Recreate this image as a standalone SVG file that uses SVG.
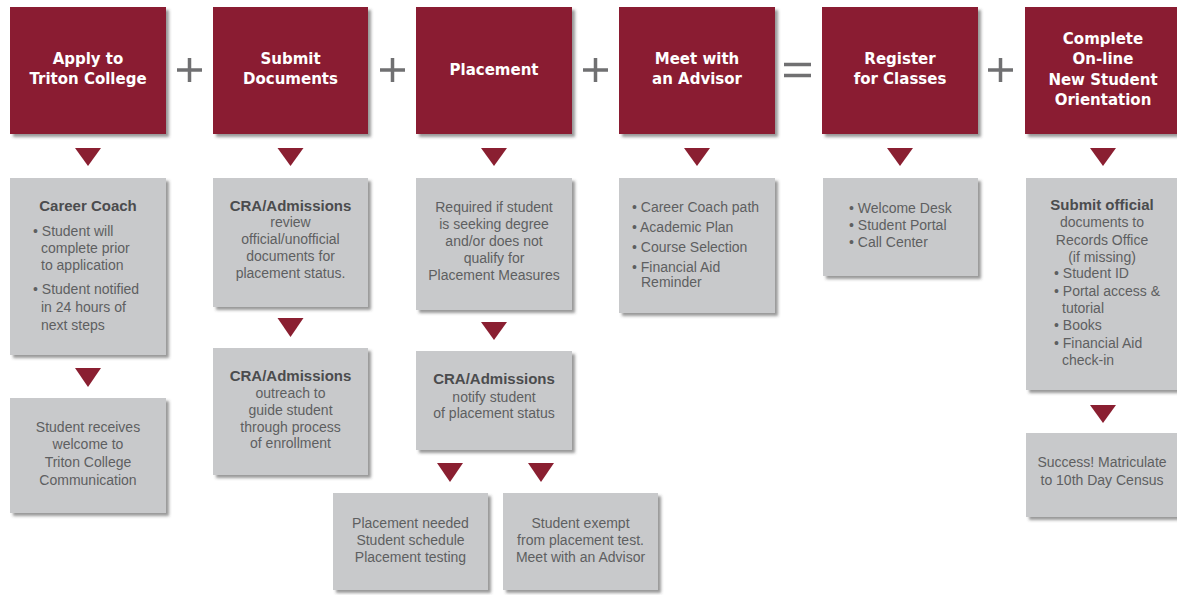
<svg xmlns="http://www.w3.org/2000/svg" width="1177" height="595" viewBox="0 0 1177 595">
<defs>
<filter id="sh" x="-10%" y="-10%" width="125%" height="125%">
<feDropShadow dx="3" dy="3" stdDeviation="1.8" flood-color="#444" flood-opacity="0.55"/>
</filter>
<style>
.hd{fill:#8A1F31;filter:url(#sh)}
.bx{fill:#C8C9CB;filter:url(#sh)}
.ht{font-family:"DejaVu Sans",sans-serif;font-weight:bold;font-size:15px;fill:#fff;text-anchor:middle}
.t{font-family:"Liberation Sans",Arial,sans-serif;font-size:14px;fill:#5E5F61}
.c{text-anchor:middle}
.b{font-weight:bold;font-size:15px;fill:#4B4C4E}
.tri{fill:#8A1F31}
.op{stroke:#707072;stroke-width:3.5;fill:none}
</style>
</defs>
<rect width="1177" height="595" fill="#fff"/>

<g id="connectors">
<path class="tri" d="M75,148 L101,148 L88,166 Z"/>
<path class="tri" d="M75,368 L101,368 L88,387 Z"/>
<path class="tri" d="M277.5,148 L303.5,148 L290.5,166 Z"/>
<path class="tri" d="M277.5,318 L303.5,318 L290.5,337 Z"/>
<path class="tri" d="M481,148 L507,148 L494,166 Z"/>
<path class="tri" d="M481,322 L507,322 L494,340 Z"/>
<path class="tri" d="M437,463 L463,463 L450,482 Z"/>
<path class="tri" d="M528,463 L554,463 L541,482 Z"/>
<path class="tri" d="M684,148 L710,148 L697,166 Z"/>
<path class="tri" d="M887,148 L913,148 L900,166 Z"/>
<path class="tri" d="M1090,148 L1116,148 L1103,166 Z"/>
<path class="tri" d="M1090,405 L1116,405 L1103,423 Z"/>
</g>

<g id="operators">
<path class="op" d="M177,70 H202 M189.5,58 V82"/>
<path class="op" d="M380,70 H405 M392.5,58 V82"/>
<path class="op" d="M583,70 H608 M595.5,58 V82"/>
<path class="op" d="M784,64.5 H811 M784,75.5 H811"/>
<path class="op" d="M988,70 H1013 M1000.5,58 V82"/>
</g>

<g id="step-apply">
<rect class="hd" x="10" y="7" width="156" height="127"/>
<text class="ht" x="88" y="64">Apply to</text>
<text class="ht" x="88" y="84">Triton College</text>
</g>
<g id="step-submit">
<rect class="hd" x="213" y="7" width="155" height="127"/>
<text class="ht" x="290.5" y="64">Submit</text>
<text class="ht" x="290.5" y="84">Documents</text>
</g>
<g id="step-placement">
<rect class="hd" x="416" y="7" width="156" height="127"/>
<text class="ht" x="494" y="75">Placement</text>
</g>
<g id="step-advisor">
<rect class="hd" x="619" y="7" width="156" height="127"/>
<text class="ht" x="697" y="64">Meet with</text>
<text class="ht" x="697" y="84">an Advisor</text>
</g>
<g id="step-register">
<rect class="hd" x="822" y="7" width="156" height="127"/>
<text class="ht" x="900" y="64">Register</text>
<text class="ht" x="900" y="84">for Classes</text>
</g>
<g id="step-orientation">
<rect class="hd" x="1025" y="7" width="156" height="127"/>
<text class="ht" x="1103" y="44">Complete</text>
<text class="ht" x="1103" y="64">On-line</text>
<text class="ht" x="1103" y="84.5">New Student</text>
<text class="ht" x="1103" y="105">Orientation</text>
</g>

<g id="career-coach">
<rect class="bx" x="10" y="178" width="156" height="177"/>
<text class="t b c" x="88" y="211">Career Coach</text>
<text class="t" x="33" y="236">• Student will</text>
<text class="t" x="41" y="253">complete prior</text>
<text class="t" x="41" y="270">to application</text>
<text class="t" x="33" y="294">• Student notified</text>
<text class="t" x="41" y="312">in 24 hours of</text>
<text class="t" x="41" y="330">next steps</text>
</g>
<g id="welcome">
<rect class="bx" x="10" y="398" width="156" height="115"/>
<text class="t c" x="88" y="432">Student receives</text>
<text class="t c" x="88" y="449">welcome to</text>
<text class="t c" x="88" y="467">Triton College</text>
<text class="t c" x="88" y="485">Communication</text>
</g>

<g id="cra-review">
<rect class="bx" x="213" y="178" width="155" height="129"/>
<text class="t b c" x="290.5" y="211">CRA/Admissions</text>
<text class="t c" x="290.5" y="227">review</text>
<text class="t c" x="290.5" y="244">official/unofficial</text>
<text class="t c" x="290.5" y="261">documents for</text>
<text class="t c" x="290.5" y="278">placement status.</text>
</g>
<g id="cra-outreach">
<rect class="bx" x="213" y="348" width="155" height="127"/>
<text class="t b c" x="290.5" y="381">CRA/Admissions</text>
<text class="t c" x="290.5" y="398">outreach to</text>
<text class="t c" x="290.5" y="415">guide student</text>
<text class="t c" x="290.5" y="432">through process</text>
<text class="t c" x="290.5" y="448">of enrollment</text>
</g>

<g id="placement-required">
<rect class="bx" x="416" y="178" width="156" height="132"/>
<text class="t c" x="494" y="212">Required if student</text>
<text class="t c" x="494" y="229">is seeking degree</text>
<text class="t c" x="494" y="246">and/or does not</text>
<text class="t c" x="494" y="263">qualify for</text>
<text class="t c" x="494" y="280">Placement Measures</text>
</g>
<g id="cra-notify">
<rect class="bx" x="416" y="351" width="156" height="99"/>
<text class="t b c" x="494" y="384">CRA/Admissions</text>
<text class="t c" x="494" y="402">notify student</text>
<text class="t c" x="494" y="418">of placement status</text>
</g>
<g id="placement-needed">
<rect class="bx" x="333" y="493" width="155" height="97"/>
<text class="t c" x="410.5" y="528">Placement needed</text>
<text class="t c" x="410.5" y="545">Student schedule</text>
<text class="t c" x="410.5" y="562">Placement testing</text>
</g>
<g id="placement-exempt">
<rect class="bx" x="503" y="493" width="155" height="97"/>
<text class="t c" x="580.5" y="528">Student exempt</text>
<text class="t c" x="580.5" y="545">from placement test.</text>
<text class="t c" x="580.5" y="562">Meet with an Advisor</text>
</g>

<g id="advisor-items">
<rect class="bx" x="619" y="178" width="156" height="135"/>
<text class="t" x="632" y="212">• Career Coach path</text>
<text class="t" x="632" y="232">• Academic Plan</text>
<text class="t" x="632" y="252">• Course Selection</text>
<text class="t" x="632" y="272">• Financial Aid</text>
<text class="t" x="641" y="287">Reminder</text>
</g>

<g id="register-items">
<rect class="bx" x="823" y="178" width="155" height="98"/>
<text class="t" x="849" y="213">• Welcome Desk</text>
<text class="t" x="849" y="230">• Student Portal</text>
<text class="t" x="849" y="247">• Call Center</text>
</g>

<g id="orientation-items">
<rect class="bx" x="1026" y="178" width="156" height="212"/>
<text class="t b c" x="1102" y="210">Submit official</text>
<text class="t c" x="1102" y="227">documents to</text>
<text class="t c" x="1102" y="245">Records Office</text>
<text class="t c" x="1102" y="262">(if missing)</text>
<text class="t" x="1054" y="278">• Student ID</text>
<text class="t" x="1054" y="296">• Portal access &amp;</text>
<text class="t" x="1062" y="313">tutorial</text>
<text class="t" x="1054" y="330">• Books</text>
<text class="t" x="1054" y="348">• Financial Aid</text>
<text class="t" x="1062" y="365">check-in</text>
</g>
<g id="success">
<rect class="bx" x="1026" y="433" width="156" height="84"/>
<text class="t c" x="1102" y="467">Success! Matriculate</text>
<text class="t c" x="1102" y="485">to 10th Day Census</text>
</g>
</svg>
